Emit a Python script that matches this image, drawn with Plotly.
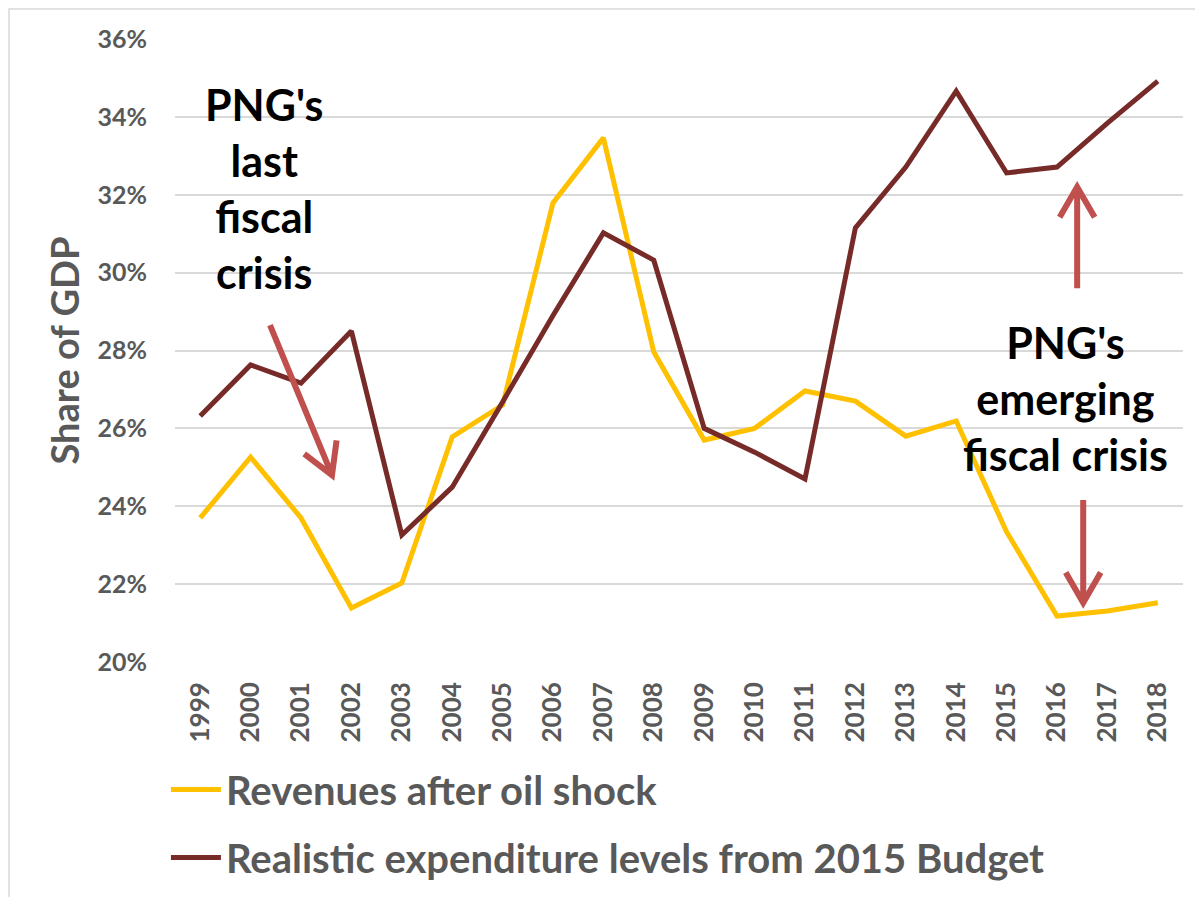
import plotly.graph_objects as go

# Share of GDP (%)
years = list(range(1999, 2019))
revenues = [23.7, 25.26, 23.7, 21.39, 22.03, 25.78, 26.6, 31.79, 33.46, 27.96,
            25.7, 26.0, 26.96, 26.7, 25.8, 26.19, 23.34, 21.18, 21.31, 21.52]
expenditure = [26.32, 27.63, 27.16, 28.5, 23.26, 24.49, 26.68, 28.9, 31.02, 30.32,
               26.0, 25.39, 24.7, 31.15, 32.71, 34.66, 32.56, 32.71, 33.84, 34.92]
y_ticks = [20, 22, 24, 26, 28, 30, 32, 34, 36]

FONT = "Lato"
GREY = "#595959"
ARROW = "#C0504D"

W, H = 1203, 897
# the page body has an 8px margin, so margins are shifted to compensate
M = dict(l=167, r=28, t=31, b=243)
x_range = [1998.5, 2018.5]
y_range = [20, 36]
px_x = (W - M["l"] - M["r"]) / (x_range[1] - x_range[0])
px_y = (H - M["t"] - M["b"]) / (y_range[1] - y_range[0])

fig = go.Figure()
fig.add_trace(go.Scatter(x=years, y=revenues, mode="lines", name="Revenues after oil shock",
                         legendgroup="a", line=dict(color="#FFC000", width=5)))
fig.add_trace(go.Scatter(x=years, y=expenditure, mode="lines",
                         name="Realistic expenditure levels from 2015 Budget",
                         legendgroup="b", line=dict(color="#772B29", width=5)))


def arrow_path(x0, y0, x1, y1, arm=35):
    # shaft plus an open chevron head, computed in pixels then mapped back to data
    dx, dy = (x1 - x0) * px_x, (y1 - y0) * px_y
    n = (dx ** 2 + dy ** 2) ** 0.5
    ux, uy = dx / n, dy / n
    pts = []
    for s in (1, -1):
        c, si = 0.866, 0.5 * s
        rx = -ux * c + uy * si
        ry = -ux * si - uy * c
        pts.append((x1 + rx * arm / px_x, y1 + ry * arm / px_y))
    return (f"M {x0},{y0} L {x1},{y1} "
            f"M {pts[0][0]},{pts[0][1]} L {x1},{y1} L {pts[1][0]},{pts[1][1]}")


arrows = [(2000.385, 28.65, 2001.615, 24.8),
          (2016.52, 24.16, 2016.52, 21.52),
          (2016.40, 29.6, 2016.40, 32.2)]
shapes = []
for a in arrows:
    shapes.append(dict(type="path", xref="x", yref="y", path=arrow_path(*a),
                       line=dict(color=ARROW, width=6)))

# light frame around the chart
shapes.append(dict(type="rect", xref="paper", yref="paper",
                   x0=-166 / 1008, x1=1.1, y0=-0.5, y1=653 / 623,
                   line=dict(color="#D9D9D9", width=1.5), layer="below"))

annotations = [
    dict(x=2000.27, y=32.15, xref="x", yref="y", showarrow=False,
         text="PNG's<br>last<br>fiscal<br>crisis",
         font=dict(family=FONT, size=43, color="black", weight="bold")),
    dict(x=2016.16, y=26.78, xref="x", yref="y", showarrow=False,
         text="PNG's<br>emerging<br>fiscal crisis",
         font=dict(family=FONT, size=43, color="black", weight="bold")),
]

fig.update_layout(
    width=W, height=H, margin=M,
    plot_bgcolor="white", paper_bgcolor="white",
    font=dict(family=FONT, color=GREY, weight="bold"),
    shapes=shapes, annotations=annotations,
    xaxis=dict(range=x_range, tickvals=years, ticktext=[str(y) for y in years],
               tickangle=-90, tickfont=dict(size=26, color=GREY, weight="bold"),
               showgrid=False, showline=False, zeroline=False, ticks="",
               ticklabelstandoff=14, automargin=False),
    yaxis=dict(range=y_range, tickvals=y_ticks, ticktext=[f"{v}%" for v in y_ticks],
               tickfont=dict(size=25, color=GREY, weight="bold"),
               gridcolor="#D9D9D9", gridwidth=1.5, zeroline=False, showline=False,
               ticks="", ticklabelstandoff=27, automargin=False,
               title=dict(text="Share of GDP", standoff=6,
                          font=dict(size=38, color=GREY, weight="bold"))),
    showlegend=True,
    legend=dict(x=-0.009, y=-0.1525, xanchor="left", yanchor="top",
                traceorder="grouped", tracegroupgap=13, itemwidth=50,
                font=dict(size=40, color=GREY, weight="bold"),
                bgcolor="rgba(0,0,0,0)"),
)

fig.write_html("out.html")
